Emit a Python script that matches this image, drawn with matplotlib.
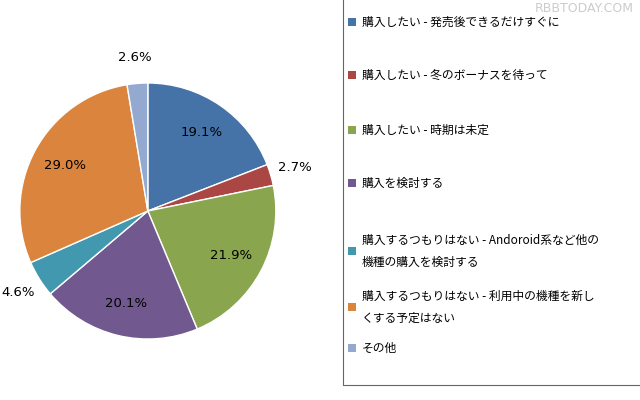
import numpy as np
import matplotlib
matplotlib.use('Agg')
import matplotlib.pyplot as plt
from matplotlib.patches import Rectangle

plt.rcParams['font.family'] = 'Noto Sans CJK JP'

labels = ['購入したい - 発売後できるだけすぐに',
          '購入したい - 冬のボーナスを待って',
          '購入したい - 時期は未定',
          '購入を検討する',
          '購入するつもりはない - Andoroid系など他の\n機種の購入を検討する',
          '購入するつもりはない - 利用中の機種を新し\nくする予定はない',
          'その他']
values = [19.1, 2.7, 21.9, 20.1, 4.6, 29.0, 2.6]
colors = ['#4572A7', '#AA4643', '#89A54E', '#71588F', '#4198AF', '#DB843D', '#93A9CF']
legend_y = [22, 75, 130, 183, 251, 307, 348]  # px from top

fig = plt.figure(figsize=(6.4, 4.0), dpi=100)
ax = fig.add_axes([0.031, 0.1525, 0.4, 0.64])
wedges, _ = ax.pie(values, colors=colors, startangle=90, counterclock=False,
                   wedgeprops=dict(edgecolor='white', linewidth=1))
ax.set_aspect('equal')
ax.set_xlim(-1, 1); ax.set_ylim(-1, 1)

for w, v in zip(wedges, values):
    ang = np.deg2rad((w.theta1 + w.theta2) / 2)
    r = 0.74 if v > 10 else 1.2
    ax.text(r * np.cos(ang), r * np.sin(ang), f'{v:.1f}%', ha='center', va='center',
            fontsize=9.5, family='DejaVu Sans', clip_on=False)

# legend box
fig.patches.append(Rectangle((343 / 640, 15 / 400), 300 / 640, 390 / 400, transform=fig.transFigure,
                             fill=False, edgecolor='#666666', linewidth=0.8))
for lab, c, y in zip(labels, colors, legend_y):
    yf = 1 - y / 400
    fig.patches.append(Rectangle((348 / 640, yf - 4 / 400), 8 / 640, 8 / 400,
                                 transform=fig.transFigure, facecolor=c, edgecolor='none'))
    fig.text(362 / 640, yf, lab, fontsize=8.5, va='center', ha='left', linespacing=1.9)

fig.text(0.99, 0.995, 'RBBTODAY.COM', ha='right', va='top', fontsize=9,
         color='#cccccc', family='DejaVu Sans')

plt.savefig('out.png', dpi=100)
